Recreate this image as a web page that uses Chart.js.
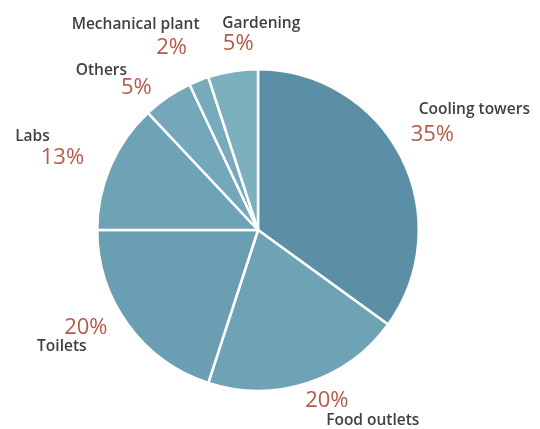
<!DOCTYPE html>
<html>
<head>
<meta charset="utf-8">
<script src="https://cdn.jsdelivr.net/npm/chart.js@4.4.1/dist/chart.umd.min.js"></script>
<style>
  html, body { margin: 0; padding: 0; background: #fff; }
  #wrap { width: 540px; height: 429px; }
</style>
</head>
<body>
<div id="wrap"><canvas id="waterUse"></canvas></div>
<script>
// water use by category (%)
const categories = ["Cooling towers", "Food outlets", "Toilets", "Labs", "Others", "Mechanical plant", "Gardening"];
const shares = [35, 20, 20, 13, 5, 2, 5];
const sliceColors = ["#5b8fa5", "#6ea2b5", "#6a9eb2", "#6ea2b5", "#74a7b9", "#77aabb", "#7db0bf"];

// label placement: nudge of the % text from its radial spot, and name offset from the % text
const pctNudge = [[-1, -6], [8, -16], [-13, -18], [-15, 6], [-11, 20], [-14, 1], [11, 8]];
const nameOffset = [[42, -25], [46, 19], [-24, 19], [-30, -21], [-35, -17], [-36, -23], [23, -20]];

const sliceLabels = {
  id: "sliceLabels",
  afterDatasetsDraw(chart) {
    const { ctx } = chart;
    const arcs = chart.getDatasetMeta(0).data;
    ctx.save();
    ctx.textAlign = "center";
    ctx.textBaseline = "middle";
    arcs.forEach((arc, i) => {
      const mid = (arc.startAngle + arc.endAngle) / 2;
      const r = arc.outerRadius + 36;
      const px = arc.x + Math.cos(mid) * r + pctNudge[i][0];
      const py = arc.y + Math.sin(mid) * r + pctNudge[i][1];
      ctx.fillStyle = "#b55a47";
      ctx.font = "22px 'Open Sans'";
      ctx.fillText(shares[i] + "%", px, py);
      ctx.fillStyle = "#404040";
      ctx.font = "600 15.5px 'Open Sans'";
      ctx.fillText(categories[i], px + nameOffset[i][0], py + nameOffset[i][1]);
    });
    ctx.restore();
  },
};

new Chart(document.getElementById("waterUse"), {
  type: "pie",
  data: {
    labels: categories,
    datasets: [
      {
        data: shares,
        backgroundColor: sliceColors,
        borderColor: "#ffffff",
        borderWidth: 2.5,
      },
    ],
  },
  options: {
    responsive: true,
    maintainAspectRatio: false,
    animation: false,
    layout: { padding: { left: 96, right: 120, top: 68, bottom: 37 } },
    plugins: {
      legend: { display: false },
      tooltip: { enabled: false },
    },
  },
  plugins: [sliceLabels],
});
</script>
</body>
</html>
